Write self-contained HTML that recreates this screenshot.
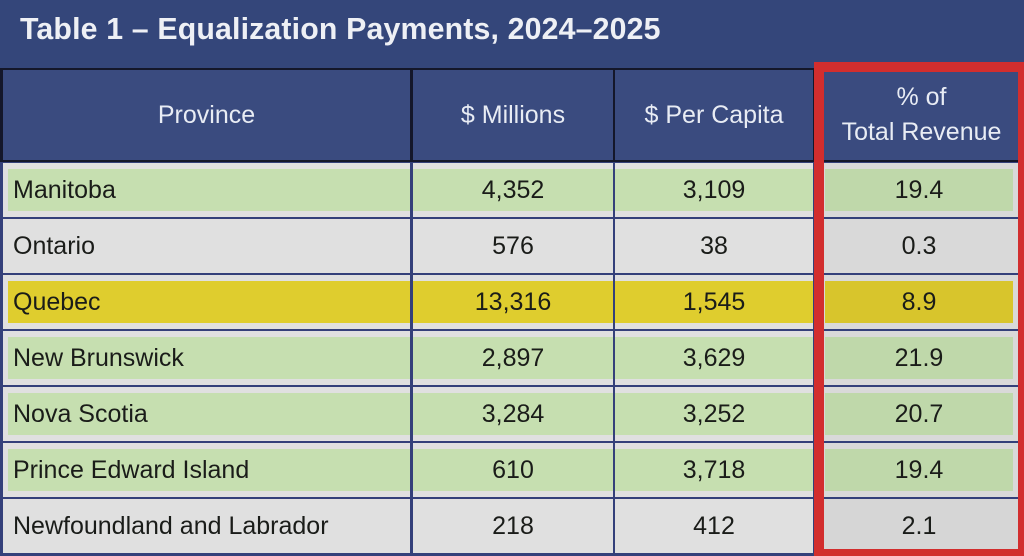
<!DOCTYPE html>
<html><head><meta charset="utf-8"><style>
*{margin:0;padding:0;box-sizing:border-box}
html,body{width:1024px;height:556px;overflow:hidden}
body{position:relative;background:#34467a;font-family:"Liberation Sans",Arial,sans-serif}
.a{position:absolute}
.title{left:20px;top:13px;font-size:30.3px;font-weight:bold;color:#eef0f5;letter-spacing:0.15px;white-space:nowrap}
.hdrbg{left:0;top:68px;width:1024px;height:95px;background:#14172a}
.h{background:#3a4b7f;color:#e8ecf4;font-size:25px;display:flex;align-items:center;justify-content:center;text-align:center;line-height:35px}
.bodybg{left:0;top:162px;width:1024px;height:394px;background:#34407a}
.g{background:#e0e0e0}
.t{font-size:25px;color:#1a1c19;display:flex;align-items:center;white-space:nowrap}
.c{justify-content:center}
.red{left:814px;top:62px;width:210px;height:494px;border-style:solid;border-color:#d22e2e;border-width:10px 6px 7px 10px}
</style></head><body>
<div class="a title">Table 1 – Equalization Payments, 2024–2025</div>
<div class="a hdrbg"></div>
<div class="a h" style="left:3px;top:70px;width:407px;height:90px">Province</div>
<div class="a h" style="left:413px;top:70px;width:200px;height:90px">$ Millions</div>
<div class="a h" style="left:615px;top:70px;width:198px;height:90px">$ Per Capita</div>
<div class="a h" style="left:815px;top:70px;width:209px;height:90px;padding-left:6px;padding-right:2px">% of<br>Total Revenue</div>
<div class="a bodybg"></div>

<!-- Row 1 Manitoba -->
<div class="a g" style="left:3px;top:163px;width:407px;height:54px"></div>
<div class="a g" style="left:413px;top:163px;width:200px;height:54px"></div>
<div class="a g" style="left:615px;top:163px;width:198px;height:54px"></div>
<div class="a g" style="left:815px;top:163px;width:203px;height:54px;background:#d9d9d9"></div>
<div class="a t" style="left:8px;top:169px;width:402px;height:42px;background:#c6dfb0;padding-left:5px">Manitoba</div>
<div class="a t c" style="left:413px;top:169px;width:200px;height:42px;background:#c6dfb0">4,352</div>
<div class="a t c" style="left:615px;top:169px;width:198px;height:42px;background:#c6dfb0">3,109</div>
<div class="a t c" style="left:825px;top:169px;width:188px;height:42px;background:#bfd8aa">19.4</div>

<!-- Row 2 Ontario -->
<div class="a g" style="left:3px;top:219px;width:407px;height:54px"></div>
<div class="a g" style="left:413px;top:219px;width:200px;height:54px"></div>
<div class="a g" style="left:615px;top:219px;width:198px;height:54px"></div>
<div class="a g" style="left:815px;top:219px;width:203px;height:54px;background:#d9d9d9"></div>
<div class="a t" style="left:8px;top:225px;width:402px;height:42px;padding-left:5px">Ontario</div>
<div class="a t c" style="left:413px;top:225px;width:200px;height:42px">576</div>
<div class="a t c" style="left:615px;top:225px;width:198px;height:42px">38</div>
<div class="a t c" style="left:825px;top:225px;width:188px;height:42px">0.3</div>

<!-- Row 3 Quebec -->
<div class="a g" style="left:3px;top:275px;width:407px;height:54px"></div>
<div class="a g" style="left:413px;top:275px;width:200px;height:54px"></div>
<div class="a g" style="left:615px;top:275px;width:198px;height:54px"></div>
<div class="a g" style="left:815px;top:275px;width:203px;height:54px;background:#d9d9d9"></div>
<div class="a t" style="left:8px;top:281px;width:402px;height:42px;background:#dfcd2e;padding-left:5px">Quebec</div>
<div class="a t c" style="left:413px;top:281px;width:200px;height:42px;background:#dfcd2e">13,316</div>
<div class="a t c" style="left:615px;top:281px;width:198px;height:42px;background:#dfcd2e">1,545</div>
<div class="a t c" style="left:825px;top:281px;width:188px;height:42px;background:#d8c52c">8.9</div>

<!-- Row 4 New Brunswick -->
<div class="a g" style="left:3px;top:331px;width:407px;height:54px"></div>
<div class="a g" style="left:413px;top:331px;width:200px;height:54px"></div>
<div class="a g" style="left:615px;top:331px;width:198px;height:54px"></div>
<div class="a g" style="left:815px;top:331px;width:203px;height:54px;background:#d9d9d9"></div>
<div class="a t" style="left:8px;top:337px;width:402px;height:42px;background:#c6dfb0;padding-left:5px">New Brunswick</div>
<div class="a t c" style="left:413px;top:337px;width:200px;height:42px;background:#c6dfb0">2,897</div>
<div class="a t c" style="left:615px;top:337px;width:198px;height:42px;background:#c6dfb0">3,629</div>
<div class="a t c" style="left:825px;top:337px;width:188px;height:42px;background:#bfd8aa">21.9</div>

<!-- Row 5 Nova Scotia -->
<div class="a g" style="left:3px;top:387px;width:407px;height:54px"></div>
<div class="a g" style="left:413px;top:387px;width:200px;height:54px"></div>
<div class="a g" style="left:615px;top:387px;width:198px;height:54px"></div>
<div class="a g" style="left:815px;top:387px;width:203px;height:54px;background:#d9d9d9"></div>
<div class="a t" style="left:8px;top:393px;width:402px;height:42px;background:#c6dfb0;padding-left:5px">Nova Scotia</div>
<div class="a t c" style="left:413px;top:393px;width:200px;height:42px;background:#c6dfb0">3,284</div>
<div class="a t c" style="left:615px;top:393px;width:198px;height:42px;background:#c6dfb0">3,252</div>
<div class="a t c" style="left:825px;top:393px;width:188px;height:42px;background:#bfd8aa">20.7</div>

<!-- Row 6 PEI -->
<div class="a g" style="left:3px;top:443px;width:407px;height:54px"></div>
<div class="a g" style="left:413px;top:443px;width:200px;height:54px"></div>
<div class="a g" style="left:615px;top:443px;width:198px;height:54px"></div>
<div class="a g" style="left:815px;top:443px;width:203px;height:54px;background:#d9d9d9"></div>
<div class="a t" style="left:8px;top:449px;width:402px;height:42px;background:#c6dfb0;padding-left:5px">Prince Edward Island</div>
<div class="a t c" style="left:413px;top:449px;width:200px;height:42px;background:#c6dfb0">610</div>
<div class="a t c" style="left:615px;top:449px;width:198px;height:42px;background:#c6dfb0">3,718</div>
<div class="a t c" style="left:825px;top:449px;width:188px;height:42px;background:#bfd8aa">19.4</div>

<!-- Row 7 NL -->
<div class="a g" style="left:3px;top:499px;width:407px;height:54px"></div>
<div class="a g" style="left:413px;top:499px;width:200px;height:54px"></div>
<div class="a g" style="left:615px;top:499px;width:198px;height:54px"></div>
<div class="a g" style="left:815px;top:499px;width:203px;height:54px;background:#d6d6d6"></div>
<div class="a t" style="left:8px;top:505px;width:402px;height:42px;padding-left:5px">Newfoundland and Labrador</div>
<div class="a t c" style="left:413px;top:505px;width:200px;height:42px">218</div>
<div class="a t c" style="left:615px;top:505px;width:198px;height:42px">412</div>
<div class="a t c" style="left:825px;top:505px;width:188px;height:42px">2.1</div>

<div class="a red"></div>
</body></html>
